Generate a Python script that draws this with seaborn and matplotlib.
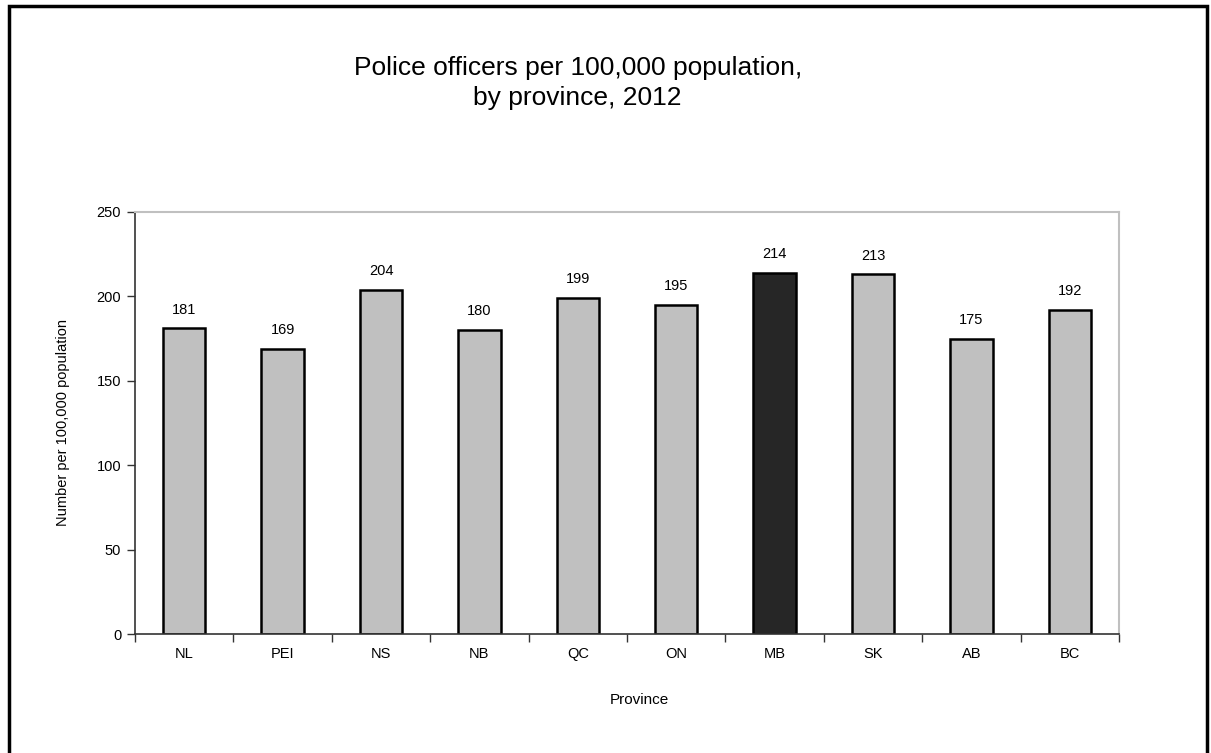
import matplotlib
matplotlib.use("Agg")
import matplotlib.pyplot as plt
import seaborn as sns
import pandas as pd
from matplotlib.patches import Rectangle

provinces = ["NL", "PEI", "NS", "NB", "QC", "ON", "MB", "SK", "AB", "BC"]
officers = [181, 169, 204, 180, 199, 195, 214, 213, 175, 192]
highlight = "MB"

sns.set_theme(style="white")
plt.rcParams["font.family"] = ["Liberation Sans", "DejaVu Sans"]
plt.rcParams["text.color"] = "black"
plt.rcParams["axes.labelcolor"] = "black"
plt.rcParams["xtick.color"] = "black"
plt.rcParams["ytick.color"] = "black"

df = pd.DataFrame({"Province": provinces, "Rate": officers})
colors = ["#262626" if p == highlight else "#C0C0C0" for p in provinces]

fig = plt.figure(figsize=(12.11, 7.53), dpi=100)
ax = fig.add_axes([0.1115, 0.158, 0.8125, 0.5605])

sns.barplot(data=df, x="Province", y="Rate", hue="Province", palette=colors,
            legend=False, width=0.43, edgecolor="black", linewidth=1.8,
            saturation=1, ax=ax)

for i, v in enumerate(officers):
    ax.text(i, v + 7, str(v), ha="center", va="bottom", fontsize=10.5)

ax.set_ylim(0, 250)
ax.set_xlim(-0.5, len(provinces) - 0.5)
ax.set_yticks([0, 50, 100, 150, 200, 250])
ax.tick_params(axis="y", which="major", left=True, length=6, width=1,
               color="#333333", labelsize=10.5, pad=4)
ax.set_xticks([i - 0.5 for i in range(len(provinces) + 1)], minor=True)
ax.tick_params(axis="x", which="major", length=0, labelsize=10.5, pad=9)
ax.tick_params(axis="x", which="minor", bottom=True, length=6, width=1,
               color="#333333")

ax.set_xlabel("Province", fontsize=11)
ax.set_ylabel("Number per 100,000 population", fontsize=10.5)
ax.xaxis.set_label_coords(0.513, -0.14)
ax.yaxis.set_label_coords(-0.066, 0.5)

for s in ["left", "bottom"]:
    ax.spines[s].set_color("#333333")
    ax.spines[s].set_linewidth(1.2)
for s in ["top", "right"]:
    ax.spines[s].set_color("#C0C0C0")
    ax.spines[s].set_linewidth(1.5)

fig.text(0.477, 0.890, "Police officers per 100,000 population,\nby province, 2012",
         ha="center", va="center", fontsize=19, linespacing=1.35)

# outer frame of the figure panel
fig.patches.append(Rectangle((9 / 1211, -0.05), (1207 - 9) / 1211, 1.05 - 6 / 753,
                             transform=fig.transFigure, fill=False,
                             edgecolor="black", linewidth=2.5))

fig.savefig("out.png", dpi=100)
